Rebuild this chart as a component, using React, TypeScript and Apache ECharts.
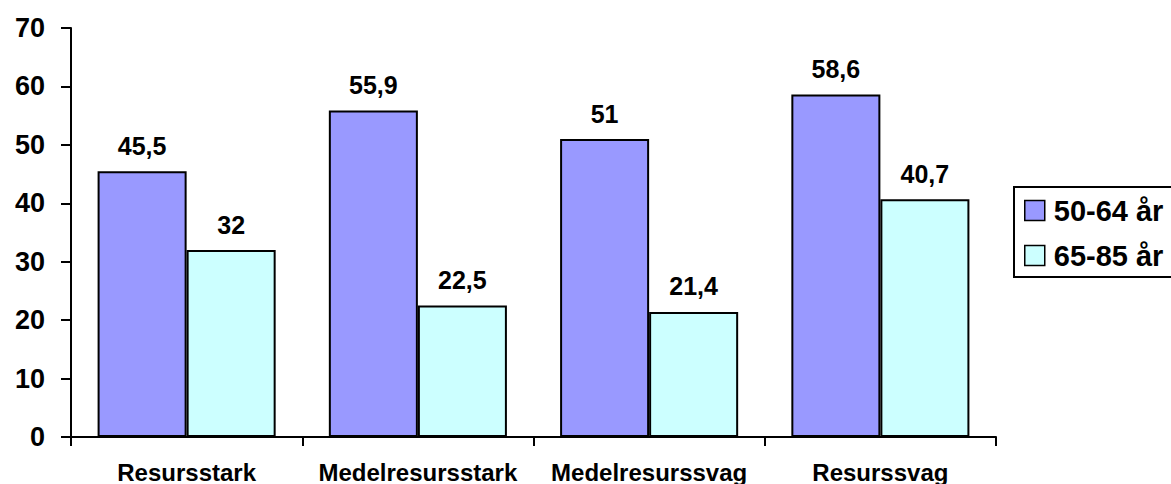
import React, { useEffect, useRef } from "react";
import * as echarts from "echarts";

const categories = ["Resursstark", "Medelresursstark", "Medelresurssvag", "Resurssvag"];
const series1Name = "50-64 år";
const series2Name = "65-85 år";
const series1 = [45.5, 55.9, 51, 58.6];
const series2 = [32, 22.5, 21.4, 40.7];
const yTicks = { min: 0, max: 70, interval: 10 };

const FONT = "Arial, 'Liberation Sans', Helvetica, sans-serif";

export default function App() {
  const ref = useRef<HTMLDivElement>(null);
  useEffect(() => {
    if (!ref.current) return;
    const chart = echarts.init(ref.current, null, { renderer: "svg" });
    const labelFmt = (p: any) => String(p.value).replace(".", ",");
    const valueLabel = {
      show: true,
      position: "top",
      distance: 13,
      formatter: labelFmt,
      fontFamily: FONT,
      fontWeight: "bold",
      fontSize: 25,
      color: "#000",
    };
    chart.setOption({
      animation: false,
      backgroundColor: "#ffffff",
      grid: { left: 71, right: 175, top: 28, bottom: 47, containLabel: false },
      legend: {
        orient: "vertical",
        left: 1014,
        top: 187,
        padding: [9, 10, 7, 10],
        itemGap: 16,
        itemWidth: 20,
        itemHeight: 20,
        borderColor: "#000",
        borderWidth: 2,
        icon: "rect",
        itemStyle: { borderColor: "#000", borderWidth: 1.5 },
        textStyle: { fontFamily: FONT, fontWeight: "bold", fontSize: 29, color: "#000", padding: [0, 0, 0, 4] },
        data: [series1Name, series2Name],
      },
      xAxis: {
        type: "category",
        data: categories,
        axisLine: { lineStyle: { color: "#000", width: 2 } },
        axisTick: { show: true, length: 9, lineStyle: { color: "#000", width: 2 } },
        axisLabel: { interval: 0, fontFamily: FONT, fontWeight: "bold", fontSize: 24, color: "#000", margin: 23 },
      },
      yAxis: {
        type: "value",
        min: yTicks.min,
        max: yTicks.max,
        interval: yTicks.interval,
        splitLine: { show: false },
        axisLine: { show: true, lineStyle: { color: "#000", width: 2 } },
        axisTick: { show: true, length: 10, lineStyle: { color: "#000", width: 2 } },
        axisLabel: { fontFamily: FONT, fontWeight: "bold", fontSize: 27, color: "#000", margin: 26 },
      },
      series: [
        {
          name: series1Name,
          type: "bar",
          data: series1,
          barGap: "0%",
          barCategoryGap: "23%",
          itemStyle: { color: "#9999FF", borderColor: "#000", borderWidth: 2 },
          label: valueLabel,
        },
        {
          name: series2Name,
          type: "bar",
          data: series2,
          barGap: "0%",
          barCategoryGap: "23%",
          itemStyle: { color: "#CCFFFF", borderColor: "#000", borderWidth: 2 },
          label: valueLabel,
        },
      ],
    });
    return () => chart.dispose();
  }, []);
  return <div ref={ref} style={{ width: 1171, height: 484, position: "absolute", left: 0, top: 0 }} />;
}
